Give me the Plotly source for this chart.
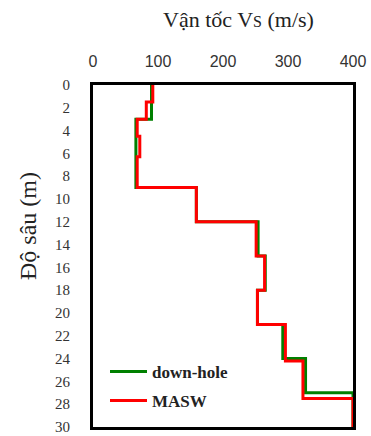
import plotly.graph_objects as go

# Layer top depths (m) and shear-wave velocities (m/s)
downhole_depth = [0, 3, 9, 12, 15, 18, 21, 24, 27, 30]
downhole_vs = [90, 66, 159, 254, 265, 253, 292, 327, 400, 400]

masw_depth = [0, 1.5, 3, 4.5, 6.3, 9, 12, 15, 18, 21, 24.2, 27.5, 30]
masw_vs = [92, 82, 68, 72, 68, 159, 251, 264, 253, 296, 323, 400, 400]

x_ticks = [0, 100, 200, 300, 400]
y_ticks = list(range(0, 31, 2))

SERIF = "Liberation Serif"
SANS = "Liberation Sans"

W, H = 371, 436
ML, MR, MT, MB = 93, 18, 85, 9
PW, PH = W - ML - MR, H - MT - MB

def px_x(p):
    return (p - ML) / PW

def px_y(p):
    return (H - MB - p) / PH

fig = go.Figure()
fig.add_trace(go.Scatter(
    x=downhole_vs, y=downhole_depth, mode="lines", line_shape="vh",
    line=dict(color="#008000", width=3), name="<b>down-hole</b>", legend="legend"))
fig.add_trace(go.Scatter(
    x=masw_vs, y=masw_depth, mode="lines", line_shape="vh",
    line=dict(color="#ff0000", width=3), name="<b>MASW</b>", legend="legend2"))

leg_common = dict(
    bgcolor="rgba(0,0,0,0)", borderwidth=0, itemwidth=37,
    font=dict(family=SERIF, size=17, color="#222222"),
    xanchor="left", yanchor="middle", tracegroupgap=0,
)

fig.update_layout(
    width=W, height=H,
    margin=dict(l=ML, r=MR, t=MT, b=MB, autoexpand=False),
    paper_bgcolor="white", plot_bgcolor="white",
    showlegend=True,
    legend=dict(x=px_x(105), y=px_y(372), **leg_common),
    legend2=dict(x=px_x(105), y=px_y(401), **leg_common),
    xaxis=dict(
        side="top", range=[0, 400], tickvals=x_ticks,
        ticktext=[str(v) for v in x_ticks],
        showgrid=False, zeroline=False, ticks="", automargin=False,
        showline=True, linecolor="black", linewidth=3, mirror=True,
        layer="below traces", ticklabelstandoff=9, ticklabeloverflow="allow",
        tickfont=dict(family=SANS, size=16, color="#333333"),
    ),
    yaxis=dict(
        range=[30, 0], tickvals=y_ticks,
        ticktext=[str(v) for v in y_ticks],
        showgrid=False, zeroline=False, ticks="", automargin=False,
        showline=True, linecolor="black", linewidth=3, mirror=True,
        layer="below traces", ticklabelstandoff=17, ticklabeloverflow="allow",
        tickfont=dict(family=SERIF, size=15, color="#333333"),
    ),
    annotations=[
        dict(text="Vận tốc V<span style='font-size:16px'>S</span> (m/s)",
             xref="paper", yref="paper", x=px_x(238), y=px_y(20),
             xanchor="center", yanchor="middle", showarrow=False,
             font=dict(family=SERIF, size=22, color="#222222")),
        dict(text="Độ sâu (m)", textangle=-90,
             xref="paper", yref="paper", x=px_x(28), y=px_y(226),
             xanchor="center", yanchor="middle", showarrow=False,
             font=dict(family=SERIF, size=24, color="#222222")),
    ],
)

fig.write_html("out.html")
